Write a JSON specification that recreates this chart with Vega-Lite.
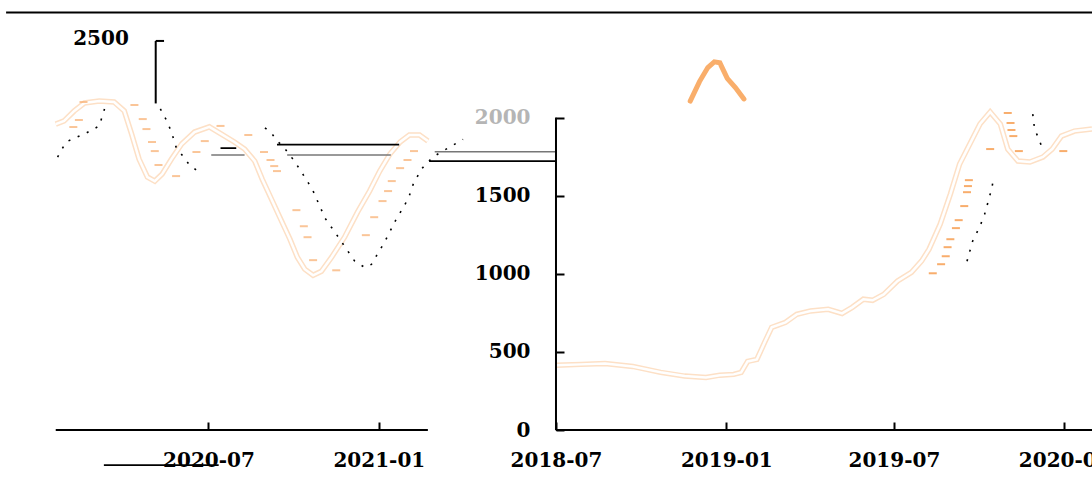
{
  "$schema": "https://vega.github.io/schema/vega-lite/v6.json",
  "width": 1092,
  "height": 430,
  "autosize": {"type": "none"},
  "padding": {"left": 0, "top": 0, "right": 0, "bottom": 59},
  "background": "white",
  "config": {
    "view": {"stroke": null},
    "font": "DejaVu Serif",
    "axis": {
      "labelFont": "DejaVu Serif",
      "labelFontSize": 20,
      "labelFontWeight": "bold",
      "labelColor": "#000",
      "tickColor": "#000",
      "tickWidth": 2,
      "grid": false,
      "domain": false,
      "tickSize": -8,
      "labelFlush": false,
      "labelOverlap": false
    }
  },
  "datasets": {
    "orangeR": [
      {"date": "2018-07-01", "value": 415}, {"date": "2018-07-28", "value": 420}, {"date": "2018-08-23", "value": 426},
      {"date": "2018-09-22", "value": 407}, {"date": "2018-10-22", "value": 369}, {"date": "2018-11-17", "value": 345},
      {"date": "2018-12-10", "value": 336}, {"date": "2018-12-25", "value": 351}, {"date": "2019-01-09", "value": 356},
      {"date": "2019-01-17", "value": 369}, {"date": "2019-01-24", "value": 439}, {"date": "2019-02-03", "value": 452},
      {"date": "2019-02-12", "value": 569}, {"date": "2019-02-19", "value": 657}, {"date": "2019-03-06", "value": 689},
      {"date": "2019-03-18", "value": 740}, {"date": "2019-04-02", "value": 762}, {"date": "2019-04-21", "value": 772},
      {"date": "2019-05-06", "value": 746}, {"date": "2019-05-17", "value": 785}, {"date": "2019-05-29", "value": 837},
      {"date": "2019-06-08", "value": 830}, {"date": "2019-06-20", "value": 868}, {"date": "2019-07-05", "value": 954},
      {"date": "2019-07-20", "value": 1009}, {"date": "2019-07-31", "value": 1082}, {"date": "2019-08-08", "value": 1157},
      {"date": "2019-08-20", "value": 1317}, {"date": "2019-08-31", "value": 1510}, {"date": "2019-09-10", "value": 1702},
      {"date": "2019-09-21", "value": 1830}, {"date": "2019-10-02", "value": 1958}, {"date": "2019-10-13", "value": 2035},
      {"date": "2019-10-24", "value": 1958}, {"date": "2019-11-01", "value": 1798}, {"date": "2019-11-12", "value": 1721},
      {"date": "2019-11-25", "value": 1715}, {"date": "2019-12-09", "value": 1747}, {"date": "2019-12-19", "value": 1798},
      {"date": "2019-12-29", "value": 1881}, {"date": "2020-01-12", "value": 1913}, {"date": "2020-01-31", "value": 1926}
    ],
    "blackR": [
      {"date": "2019-09-18", "value": 1080, "part": 1}, {"date": "2019-09-24", "value": 1208, "part": 1}, {"date": "2019-10-02", "value": 1304, "part": 1},
      {"date": "2019-10-07", "value": 1381, "part": 1}, {"date": "2019-10-11", "value": 1465, "part": 1}, {"date": "2019-10-15", "value": 1554, "part": 1},
      {"date": "2019-10-17", "value": 1625, "part": 1},
      {"date": "2019-11-28", "value": 2022, "part": 2}, {"date": "2019-11-30", "value": 1926, "part": 2},
      {"date": "2019-12-05", "value": 1856, "part": 2}, {"date": "2019-12-09", "value": 1792, "part": 2}
    ],
    "dashR": [
      {"date": "2019-11-01", "value": 2029}, {"date": "2019-11-04", "value": 1965}, {"date": "2019-11-05", "value": 1920},
      {"date": "2019-11-07", "value": 1881}, {"date": "2019-11-13", "value": 1785}, {"date": "2019-10-13", "value": 1798},
      {"date": "2019-09-20", "value": 1599}, {"date": "2019-09-19", "value": 1561}, {"date": "2019-09-18", "value": 1522},
      {"date": "2019-09-15", "value": 1433}, {"date": "2019-09-09", "value": 1343}, {"date": "2019-09-06", "value": 1292},
      {"date": "2019-08-31", "value": 1221}, {"date": "2019-08-28", "value": 1170}, {"date": "2019-08-26", "value": 1112},
      {"date": "2019-08-21", "value": 1061}, {"date": "2019-08-12", "value": 1003}, {"date": "2019-12-31", "value": 1785}
    ],
    "arch": [
      {"date": "2018-11-23", "value": 2105}, {"date": "2018-12-03", "value": 2230}, {"date": "2018-12-12", "value": 2320},
      {"date": "2018-12-19", "value": 2356}, {"date": "2018-12-25", "value": 2350}, {"date": "2019-01-02", "value": 2250},
      {"date": "2019-01-11", "value": 2190}, {"date": "2019-01-20", "value": 2119}
    ],
    "segR": [
      {"x": "2016-11-14", "x2": "2020-01-31", "y": 2672, "kind": "axis"},
      {"x": "2018-02-20", "x2": "2018-07-01", "y": 1781, "kind": "gray"},
      {"x": "2018-02-14", "x2": "2018-07-01", "y": 1721, "kind": "thin"},
      {"x": "2018-07-01", "x2": "2020-01-31", "y": 0, "kind": "axis"}
    ],
    "vsegR": [{"x": "2018-07-01", "y": 0, "y2": 2000}],
    "orangeL": [
      {"date": "2020-01-18", "value": 1958}, {"date": "2020-01-27", "value": 1978}, {"date": "2020-02-07", "value": 2042},
      {"date": "2020-02-18", "value": 2093}, {"date": "2020-03-05", "value": 2106}, {"date": "2020-03-21", "value": 2099},
      {"date": "2020-04-01", "value": 2042}, {"date": "2020-04-09", "value": 1894}, {"date": "2020-04-17", "value": 1734},
      {"date": "2020-04-26", "value": 1619}, {"date": "2020-05-04", "value": 1593}, {"date": "2020-05-12", "value": 1638},
      {"date": "2020-05-22", "value": 1734}, {"date": "2020-06-02", "value": 1830}, {"date": "2020-06-16", "value": 1907},
      {"date": "2020-07-02", "value": 1940}, {"date": "2020-07-15", "value": 1894}, {"date": "2020-07-29", "value": 1843},
      {"date": "2020-08-09", "value": 1798}, {"date": "2020-08-20", "value": 1721}, {"date": "2020-08-28", "value": 1606},
      {"date": "2020-09-07", "value": 1478}, {"date": "2020-09-16", "value": 1362}, {"date": "2020-09-27", "value": 1221},
      {"date": "2020-10-05", "value": 1106}, {"date": "2020-10-13", "value": 1029}, {"date": "2020-10-22", "value": 990},
      {"date": "2020-10-31", "value": 1016}, {"date": "2020-11-11", "value": 1106}, {"date": "2020-11-25", "value": 1234},
      {"date": "2020-12-09", "value": 1394}, {"date": "2020-12-22", "value": 1529}, {"date": "2021-01-02", "value": 1657},
      {"date": "2021-01-13", "value": 1766}, {"date": "2021-01-24", "value": 1843}, {"date": "2021-02-03", "value": 1888},
      {"date": "2021-02-14", "value": 1888}, {"date": "2021-02-23", "value": 1849}
    ],
    "blackL": [
      {"date": "2020-01-20", "value": 1747, "part": 1}, {"date": "2020-01-29", "value": 1843, "part": 1}, {"date": "2020-02-20", "value": 1901, "part": 1},
      {"date": "2020-03-05", "value": 1946, "part": 1}, {"date": "2020-03-12", "value": 2080, "part": 1},
      {"date": "2020-05-10", "value": 2055, "part": 2}, {"date": "2020-05-17", "value": 1978, "part": 2},
      {"date": "2020-05-22", "value": 1907, "part": 2}, {"date": "2020-05-27", "value": 1811, "part": 2}, {"date": "2020-06-10", "value": 1700, "part": 2},
      {"date": "2020-06-23", "value": 1638, "part": 2},
      {"date": "2020-08-31", "value": 1933, "part": 3}, {"date": "2020-09-07", "value": 1901, "part": 3},
      {"date": "2020-09-13", "value": 1850, "part": 3}, {"date": "2020-09-19", "value": 1820, "part": 3}, {"date": "2020-10-02", "value": 1720, "part": 3},
      {"date": "2020-10-16", "value": 1590, "part": 3}, {"date": "2020-10-22", "value": 1530, "part": 3}, {"date": "2020-11-04", "value": 1355, "part": 3},
      {"date": "2020-11-20", "value": 1220, "part": 3}, {"date": "2020-12-06", "value": 1080, "part": 3}, {"date": "2020-12-17", "value": 1040, "part": 3},
      {"date": "2020-12-24", "value": 1060, "part": 3}, {"date": "2021-01-07", "value": 1200, "part": 3}, {"date": "2021-01-19", "value": 1340, "part": 3},
      {"date": "2021-01-29", "value": 1440, "part": 3}, {"date": "2021-02-03", "value": 1500, "part": 3}, {"date": "2021-02-07", "value": 1570, "part": 3},
      {"date": "2021-02-16", "value": 1670, "part": 3}, {"date": "2021-03-01", "value": 1750, "part": 3}, {"date": "2021-04-02", "value": 1860, "part": 3}
    ],
    "dashL": [
      {"date": "2020-02-17", "value": 2099}, {"date": "2020-02-12", "value": 1984}, {"date": "2020-02-06", "value": 1939},
      {"date": "2020-04-12", "value": 2080}, {"date": "2020-04-21", "value": 1990}, {"date": "2020-04-25", "value": 1926},
      {"date": "2020-05-01", "value": 1843}, {"date": "2020-05-04", "value": 1785}, {"date": "2020-05-08", "value": 1696},
      {"date": "2020-05-27", "value": 1625}, {"date": "2020-06-18", "value": 1779}, {"date": "2020-06-27", "value": 1849},
      {"date": "2020-07-14", "value": 1946}, {"date": "2020-08-13", "value": 1888}, {"date": "2020-08-30", "value": 1779},
      {"date": "2020-09-06", "value": 1728}, {"date": "2020-09-10", "value": 1689}, {"date": "2020-09-13", "value": 1657},
      {"date": "2020-10-04", "value": 1407}, {"date": "2020-10-12", "value": 1304}, {"date": "2020-10-16", "value": 1234},
      {"date": "2020-10-22", "value": 1087}, {"date": "2020-11-16", "value": 1022}, {"date": "2020-12-18", "value": 1247},
      {"date": "2020-12-27", "value": 1362}, {"date": "2021-01-05", "value": 1465}, {"date": "2021-01-11", "value": 1529},
      {"date": "2021-01-15", "value": 1593}, {"date": "2021-01-24", "value": 1676}, {"date": "2021-02-01", "value": 1728},
      {"date": "2021-02-08", "value": 1785}
    ],
    "segL": [
      {"x": "2020-09-13", "x2": "2021-01-23", "y": 1826, "kind": "thin"},
      {"x": "2020-09-24", "x2": "2021-01-14", "y": 1760, "kind": "gray"},
      {"x": "2020-07-04", "x2": "2020-08-09", "y": 1760, "kind": "gray"},
      {"x": "2020-07-14", "x2": "2020-07-31", "y": 1804, "kind": "thin"},
      {"x": "2020-01-18", "x2": "2021-02-23", "y": 0, "kind": "axis"},
      {"x": "2020-03-10", "x2": "2020-07-12", "y": -224, "kind": "thin"},
      {"x": "2020-05-05", "x2": "2020-05-14", "y": 2490, "kind": "axis"}
    ],
    "vsegL": [{"x": "2020-05-05", "y": 2090, "y2": 2490}],
    "labelL": [{"date": "2020-04-06", "value": 2500, "label": "2500"}]
  },
  "layer": [
    {
      "layer": [
        {
          "data": {"name": "orangeR"},
          "mark": {"type": "line", "stroke": "#fde0c6", "strokeWidth": 5.5},
          "encoding": {
            "x": {
              "field": "date", "type": "temporal", "title": null,
              "scale": {"type": "utc", "nice": false, "domain": [{"year": 2016, "month": 11, "date": 7, "hours": 10, "utc": true}, {"year": 2020, "month": 1, "date": 31, "utc": true}]},
              "axis": {"orient": "bottom", "title": null, "format": "%Y-%m", "labelPadding": 28,
                "values": [{"year": 2018, "month": 7, "date": 1, "utc": true}, {"year": 2019, "month": 1, "date": 1, "utc": true}, {"year": 2019, "month": 7, "date": 1, "utc": true}, {"year": 2020, "month": 1, "date": 1, "utc": true}]}
            },
            "y": {
              "field": "value", "type": "quantitative", "title": null,
              "scale": {"domain": [0, 2752], "nice": false, "zero": false},
              "axis": {"orient": "left", "offset": -556, "title": null, "format": "d", "values": [0, 500, 1000, 1500, 2000], "labelPadding": 34,
                "labelColor": {"condition": {"test": "datum.value == 2000", "value": "#b5b5b5"}, "value": "#000"}}
            }
          }
        },
        {
          "data": {"name": "orangeR"},
          "mark": {"type": "line", "stroke": "white", "strokeWidth": 2.5},
          "encoding": {"x": {"field": "date", "type": "temporal", "title": null}, "y": {"field": "value", "type": "quantitative", "title": null}}
        },
        {
          "data": {"name": "arch"},
          "mark": {"type": "line", "stroke": "#f9ae6b", "strokeWidth": 5, "strokeCap": "round"},
          "encoding": {"x": {"field": "date", "type": "temporal", "title": null}, "y": {"field": "value", "type": "quantitative", "title": null}}
        },
        {
          "data": {"name": "dashR"},
          "mark": {"type": "tick", "orient": "horizontal", "color": "#f8ad6c", "size": 8, "thickness": 2, "opacity": 1},
          "encoding": {"x": {"field": "date", "type": "temporal", "title": null}, "y": {"field": "value", "type": "quantitative", "title": null}}
        },
        {
          "data": {"name": "blackR"},
          "mark": {"type": "line", "stroke": "#000", "strokeWidth": 1.6, "strokeDash": [2, 8]},
          "encoding": {"x": {"field": "date", "type": "temporal", "title": null}, "y": {"field": "value", "type": "quantitative", "title": null}, "detail": {"field": "part", "type": "nominal"}}
        },
        {
          "data": {"name": "segR"},
          "mark": {"type": "rule"},
          "encoding": {
            "x": {"field": "x", "type": "temporal", "title": null},
            "x2": {"field": "x2"},
            "y": {"field": "y", "type": "quantitative", "title": null},
            "color": {"field": "kind", "type": "nominal", "scale": {"domain": ["axis", "thin", "gray"], "range": ["#000000", "#000000", "#777777"]}, "legend": null},
            "strokeWidth": {"field": "kind", "type": "nominal", "scale": {"domain": ["axis", "thin", "gray"], "range": [2, 1.5, 2.5]}, "legend": null}
          }
        },
        {
          "data": {"name": "vsegR"},
          "mark": {"type": "rule", "color": "#000", "strokeWidth": 2},
          "encoding": {"x": {"field": "x", "type": "temporal", "title": null}, "y": {"field": "y", "type": "quantitative", "title": null}, "y2": {"field": "y2"}}
        }
      ]
    },
    {
      "layer": [
        {
          "data": {"name": "orangeL"},
          "mark": {"type": "line", "stroke": "#fde0c6", "strokeWidth": 5.5},
          "encoding": {
            "x": {
              "field": "date", "type": "temporal", "title": null,
              "scale": {"type": "utc", "nice": false, "domain": [{"year": 2019, "month": 11, "date": 18, "hours": 19, "utc": true}, {"year": 2023, "month": 2, "date": 10, "hours": 10, "utc": true}]},
              "axis": {"orient": "bottom", "title": null, "format": "%Y-%m", "labelPadding": 28,
                "values": [{"year": 2020, "month": 7, "date": 1, "utc": true}, {"year": 2021, "month": 1, "date": 1, "utc": true}]}
            },
            "y": {"field": "value", "type": "quantitative", "title": null}
          }
        },
        {
          "data": {"name": "orangeL"},
          "mark": {"type": "line", "stroke": "white", "strokeWidth": 2.5},
          "encoding": {"x": {"field": "date", "type": "temporal", "title": null}, "y": {"field": "value", "type": "quantitative", "title": null}}
        },
        {
          "data": {"name": "dashL"},
          "mark": {"type": "tick", "orient": "horizontal", "color": "#f8ad6c", "size": 8, "thickness": 2},
          "encoding": {"x": {"field": "date", "type": "temporal", "title": null}, "y": {"field": "value", "type": "quantitative", "title": null}}
        },
        {
          "data": {"name": "blackL"},
          "mark": {"type": "line", "stroke": "#000", "strokeWidth": 1.6, "strokeDash": [2, 8]},
          "encoding": {"x": {"field": "date", "type": "temporal", "title": null}, "y": {"field": "value", "type": "quantitative", "title": null}, "detail": {"field": "part", "type": "nominal"}}
        },
        {
          "data": {"name": "segL"},
          "mark": {"type": "rule"},
          "encoding": {
            "x": {"field": "x", "type": "temporal", "title": null},
            "x2": {"field": "x2"},
            "y": {"field": "y", "type": "quantitative", "title": null},
            "color": {"field": "kind", "type": "nominal", "scale": {"domain": ["axis", "thin", "gray"], "range": ["#000000", "#000000", "#777777"]}, "legend": null},
            "strokeWidth": {"field": "kind", "type": "nominal", "scale": {"domain": ["axis", "thin", "gray"], "range": [2, 1.5, 2.5]}, "legend": null}
          }
        },
        {
          "data": {"name": "vsegL"},
          "mark": {"type": "rule", "color": "#000", "strokeWidth": 2},
          "encoding": {"x": {"field": "x", "type": "temporal", "title": null}, "y": {"field": "y", "type": "quantitative", "title": null}, "y2": {"field": "y2"}}
        },
        {
          "data": {"name": "labelL"},
          "mark": {"type": "text", "align": "right", "baseline": "middle", "fontSize": 20, "fontWeight": "bold", "font": "DejaVu Serif", "color": "#000"},
          "encoding": {"x": {"field": "date", "type": "temporal", "title": null}, "y": {"field": "value", "type": "quantitative", "title": null}, "text": {"field": "label"}}
        }
      ]
    }
  ],
  "resolve": {"scale": {"x": "independent"}, "axis": {"x": "independent"}}
}
